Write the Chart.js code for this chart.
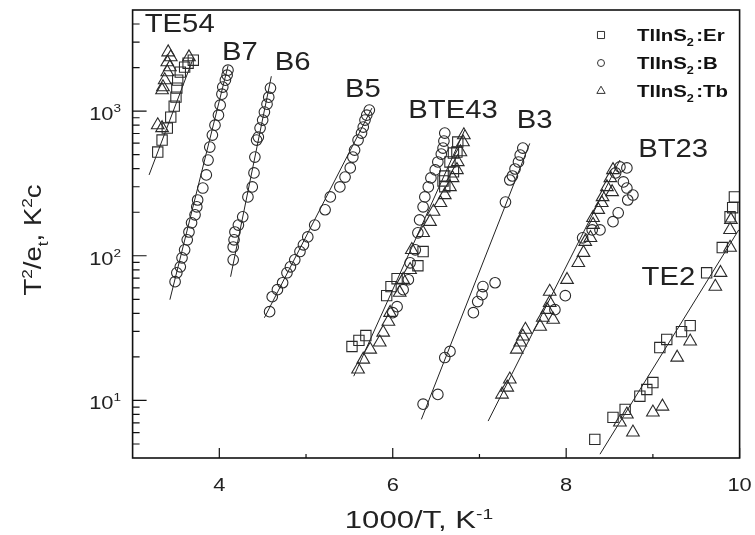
<!DOCTYPE html>
<html><head><meta charset="utf-8">
<script src="https://cdn.jsdelivr.net/npm/chart.js@4.4.1/dist/chart.umd.min.js"></script>
<style>html,body{margin:0;padding:0;background:#fff}#wrap{width:755px;height:535px}</style>
</head><body><div id="wrap"><canvas id="c" width="755" height="535"></canvas></div>
<script>
// ---------------- data ----------------
const seriesNames = ['TlInS2:Er', 'TlInS2:B', 'TlInS2:Tb'];

// TlInS2:Er (squares)
const erX = [3.29,3.34,3.40,3.44,3.48,3.50,3.51,3.52,3.55,3.60,3.64,3.70,
  5.53,5.61,5.69,5.93,5.98,6.05,6.29,6.35,6.58,6.60,6.60,6.66,6.70,6.74,6.75,6.70,
  8.33,8.54,8.68,8.85,8.93,9.00,9.08,9.16,9.33,9.43,9.62,9.80,9.89,9.92,9.94];
const erY = [521,631,764,909,1083,1249,1442,1637,1860,2013,2145,2250,
  23.6,26.0,28.1,53.0,61.2,69.4,85.3,107,329,356,300,445,513,521,611,380,
  5.38,7.64,8.67,10.7,11.9,13.3,23.2,26.4,29.9,32.9,76.3,114,186,215,255];

// TlInS2:B (circles)
const bX = [3.49,3.51,3.55,3.57,3.60,3.63,3.65,3.68,3.72,3.74,3.75,3.81,3.85,3.87,3.89,3.92,3.95,3.99,4.01,4.03,4.04,4.07,4.09,4.10,
  4.16,4.16,4.17,4.18,4.22,4.27,4.33,4.38,4.40,4.41,4.43,4.45,4.47,4.50,4.52,4.55,4.57,4.59,
  4.58,4.61,4.67,4.73,4.78,4.82,4.87,4.93,4.97,5.02,5.10,5.22,5.28,5.39,5.45,5.51,5.54,5.56,5.60,5.64,5.66,5.68,5.70,5.73,
  6.00,6.05,6.12,6.18,6.20,6.26,6.29,6.31,6.35,6.37,6.41,6.44,6.49,6.52,6.56,6.58,6.59,6.60,
  6.35,6.52,6.60,6.66,6.93,6.98,7.03,7.04,7.18,7.30,7.35,7.38,7.41,7.45,7.47,7.50,
  7.87,7.99,8.19,8.30,8.39,8.54,8.60,8.71,8.77,8.70,8.66,8.57,8.70,8.62];
const bY = [66.2,76.3,83.9,96.8,110,129,146,169,192,218,243,294,362,459,564,683,800,938,1100,1310,1465,1637,1772,1919,
  93.8,115,129,146,163,186,255,299,374,481,631,662,764,867,985,1117,1249,1442,
  41.1,52.1,58.3,65.1,76.3,83.9,93.8,107,119,135,163,208,255,299,350,405,481,538,631,705,776,867,938,1016,
  40.4,44.5,58.3,68.3,89.4,110,144,177,218,255,299,345,392,445,505,555,621,705,
  9.42,11.0,19.8,21.8,40.4,48.2,53.8,61.2,65.1,235,334,356,398,445,497,555,
  42.4,53.0,133,151,151,172,198,243,263,294,324,374,405,411];

// TlInS2:Tb (triangles)
const tbX = [3.41,3.44,3.40,3.43,3.40,3.37,3.35,3.34,3.29,3.34,3.65,
  5.60,5.66,5.74,5.85,5.89,5.95,5.97,6.08,6.12,6.20,6.22,6.35,6.43,6.47,6.55,6.60,6.66,6.69,6.74,6.75,6.78,6.81,6.82,
  7.26,7.32,7.35,7.43,7.47,7.50,7.53,7.70,7.73,7.78,7.81,7.85,7.81,8.01,8.14,8.20,8.22,8.28,8.31,8.31,8.37,8.41,8.42,8.47,8.53,8.51,8.54,
  8.62,8.70,8.77,9.00,9.11,9.28,9.43,9.72,9.78,9.89,9.89,9.90];
const tbY = [2555,2360,2180,2013,1860,1637,1465,1397,800,764,2360,
  16.4,19.2,22.5,25.2,29.5,35.1,40.4,55.6,68.3,80.0,110,144,172,202,232,263,299,345,392,445,521,611,683,
  11.0,12.3,14.0,22.5,25.2,27.7,30.9,32.4,37.4,42.4,47.4,36.2,56.5,68.3,89.4,105,125,133,164,183,208,232,255,299,276,345,392,
  7.05,8.01,6.02,8.27,9.09,19.8,25.6,61.2,76.3,114,151,177];

// fitted straight lines (end points) and their group names
const fitNames = ['TE54','B7','B6','B5','BTE43','B3','BT23','TE2'];
const fitX1 = [3.19, 3.43, 4.13, 4.52, 5.55, 6.33, 7.10, 8.39];
const fitY1 = [362, 49.7, 71.6, 37.3, 14.7, 7.40, 7.2, 4.25];
const fitX2 = [3.70, 4.10, 4.60, 5.76, 6.83, 7.58, 8.62, 9.99];
const fitY2 = [2324, 2050, 1742, 1049, 740, 598, 459, 151];

// group label anchors (data coordinates, left edge / middle)
const labelX = [3.14, 4.03, 4.64, 5.45, 6.18, 7.43, 8.83, 8.87];
const labelY = [4046, 2594, 2213, 1442, 1032, 881, 560, 71.9];

// axis ticks
const xMajor = [4, 6, 8, 10];
const xMinor = [5, 7, 9];
const yMajor = [10, 100, 1000];
const yMajorExp = ['1', '2', '3'];
const yMinor = [5,6,7,8,9,20,30,40,50,60,70,80,90,200,300,400,500,600,700,800,900,2000,3000,4000];

// ---------------- drawing ----------------
const FAM = "'Liberation Sans', Arial, Helvetica, sans-serif";
const INK = '#222';

function drawRich(ctx, parts, x, y, o) {
  const size = o.size, w = o.weight || 'normal';
  const small = size * 0.62;
  let total = 0;
  const widths = parts.map(p => {
    ctx.font = `${w} ${(p.sup || p.sub) ? small : size}px ${FAM}`;
    const m = ctx.measureText(p.t).width + (p.gap || 0);
    total += m; return m;
  });
  ctx.save();
  ctx.translate(x, y);
  if (o.rot) ctx.rotate(o.rot);
  ctx.scale(o.sx || 1, 1);
  let cx = o.align === 'center' ? -total / 2 : (o.align === 'right' ? -total : 0);
  ctx.textBaseline = 'alphabetic';
  ctx.textAlign = 'left';
  ctx.fillStyle = o.color || INK;
  const base = size * 0.36;
  parts.forEach((p, i) => {
    ctx.font = `${w} ${(p.sup || p.sub) ? small : size}px ${FAM}`;
    const dy = p.sup ? -size * 0.42 : (p.sub ? size * 0.28 : 0);
    ctx.fillText(p.t, cx, base + dy);
    cx += widths[i];
  });
  ctx.restore();
}

function marker(ctx, style, x, y, r) {
  ctx.beginPath();
  if (style === 'rect') {
    const s = Math.SQRT1_2 * r;
    ctx.rect(x - s, y - s, 2 * s, 2 * s);
  } else if (style === 'circle') {
    ctx.arc(x, y, r, 0, Math.PI * 2);
  } else {
    ctx.moveTo(x, y - r);
    ctx.lineTo(x + r * Math.sin(2 * Math.PI / 3), y - r * Math.cos(2 * Math.PI / 3));
    ctx.lineTo(x + r * Math.sin(4 * Math.PI / 3), y - r * Math.cos(4 * Math.PI / 3));
    ctx.closePath();
  }
  ctx.stroke();
}

const decor = {
  id: 'decor',
  afterDraw(chart) {
    const ctx = chart.ctx, a = chart.chartArea;
    const xs = chart.scales.x, ys = chart.scales.y;
    ctx.save();
    // frame
    ctx.strokeStyle = '#111';
    ctx.lineWidth = 1.6;
    ctx.strokeRect(a.left, a.top, a.right - a.left, a.bottom - a.top);
    // ticks (inward)
    ctx.lineWidth = 1.2;
    ctx.beginPath();
    xMajor.forEach(v => { const px = xs.getPixelForValue(v); ctx.moveTo(px, a.bottom); ctx.lineTo(px, a.bottom - 10); });
    xMinor.forEach(v => { const px = xs.getPixelForValue(v); ctx.moveTo(px, a.bottom); ctx.lineTo(px, a.bottom - 4); });
    yMajor.forEach(v => { const py = ys.getPixelForValue(v); ctx.moveTo(a.left, py); ctx.lineTo(a.left + 14, py); });
    yMinor.forEach(v => { const py = ys.getPixelForValue(v); ctx.moveTo(a.left, py); ctx.lineTo(a.left + 7, py); });
    ctx.stroke();
    // x tick labels
    xMajor.forEach(v => {
      drawRich(ctx, [{ t: String(v) }], xs.getPixelForValue(v), 484, { size: 19, sx: 1.15, align: 'center' });
    });
    // y tick labels
    yMajor.forEach((v, i) => {
      drawRich(ctx, [{ t: '10' }, { t: yMajorExp[i], sup: true }], 121, ys.getPixelForValue(v) + 2, { size: 19, sx: 1.15, align: 'right' });
    });
    // axis titles
    drawRich(ctx, [{ t: '1000/T, K' }, { t: '-1', sup: true }], 419, 520, { size: 23, sx: 1.35, align: 'center' });
    drawRich(ctx, [{ t: 'T' }, { t: '2', sup: true }, { t: '/e' }, { t: 't', sub: true }, { t: ', K' }, { t: '2', sup: true }, { t: 'c' }],
      33, 240, { size: 23, sx: 1.2, align: 'center', rot: -Math.PI / 2 });
    // group labels
    fitNames.forEach((n, i) => {
      drawRich(ctx, [{ t: n }], xs.getPixelForValue(labelX[i]), ys.getPixelForValue(labelY[i]), { size: 25, sx: 1.17, align: 'left', color: '#222' });
    });
    // legend
    const styles = ['rect', 'circle', 'triangle'], radii = [5, 3.5, 4.8], rows = [35, 63, 91];
    ctx.strokeStyle = '#333';
    ctx.lineWidth = 1;
    seriesNames.forEach((n, i) => {
      marker(ctx, styles[i], 601, rows[i], radii[i]);
      const m = n.match(/^(TlInS)(2)(:.*)$/);
      drawRich(ctx, [{ t: m[1] }, { t: m[2], sub: true, gap: 2 }, { t: m[3] }], 637, rows[i], { size: 17, weight: 'bold', sx: 1.2, align: 'left', color: '#111' });
    });
    ctx.restore();
  }
};

function pts(xs, ys) { return xs.map((x, i) => ({ x, y: ys[i] })); }

const datasets = [
  { label: seriesNames[0], data: pts(erX, erY), pointStyle: 'rect', pointRadius: 7.3, borderColor: '#2a2a2a', backgroundColor: 'rgba(0,0,0,0)', borderWidth: 1.1, showLine: false },
  { label: seriesNames[1], data: pts(bX, bY), pointStyle: 'circle', pointRadius: 5.3, borderColor: '#2a2a2a', backgroundColor: 'rgba(0,0,0,0)', borderWidth: 1.1, showLine: false },
  { label: seriesNames[2], data: pts(tbX, tbY), pointStyle: 'triangle', pointRadius: 7.3, borderColor: '#2a2a2a', backgroundColor: 'rgba(0,0,0,0)', borderWidth: 1.1, showLine: false }
];
fitNames.forEach((n, i) => {
  datasets.push({ label: n + ' fit', data: [{ x: fitX1[i], y: fitY1[i] }, { x: fitX2[i], y: fitY2[i] }],
    showLine: true, pointRadius: 0, borderColor: '#222', borderWidth: 1, fill: false });
});

new Chart(document.getElementById('c'), {
  type: 'scatter',
  data: { datasets },
  options: {
    responsive: false, animation: false, devicePixelRatio: 1,
    layout: { padding: { left: 0, right: 15.4, top: 10, bottom: 0 } },
    plugins: { legend: { display: false }, tooltip: { enabled: false } },
    scales: {
      x: { type: 'linear', min: 3, max: 10, grid: { display: false }, border: { display: false }, ticks: { display: false },
           afterFit(s) { s.height = 77; } },
      y: { type: 'logarithmic', min: 4, max: 5000, grid: { display: false }, border: { display: false }, ticks: { display: false },
           afterFit(s) { s.width = 132.6; } }
    }
  },
  plugins: [decor]
});
</script>
</body></html>
